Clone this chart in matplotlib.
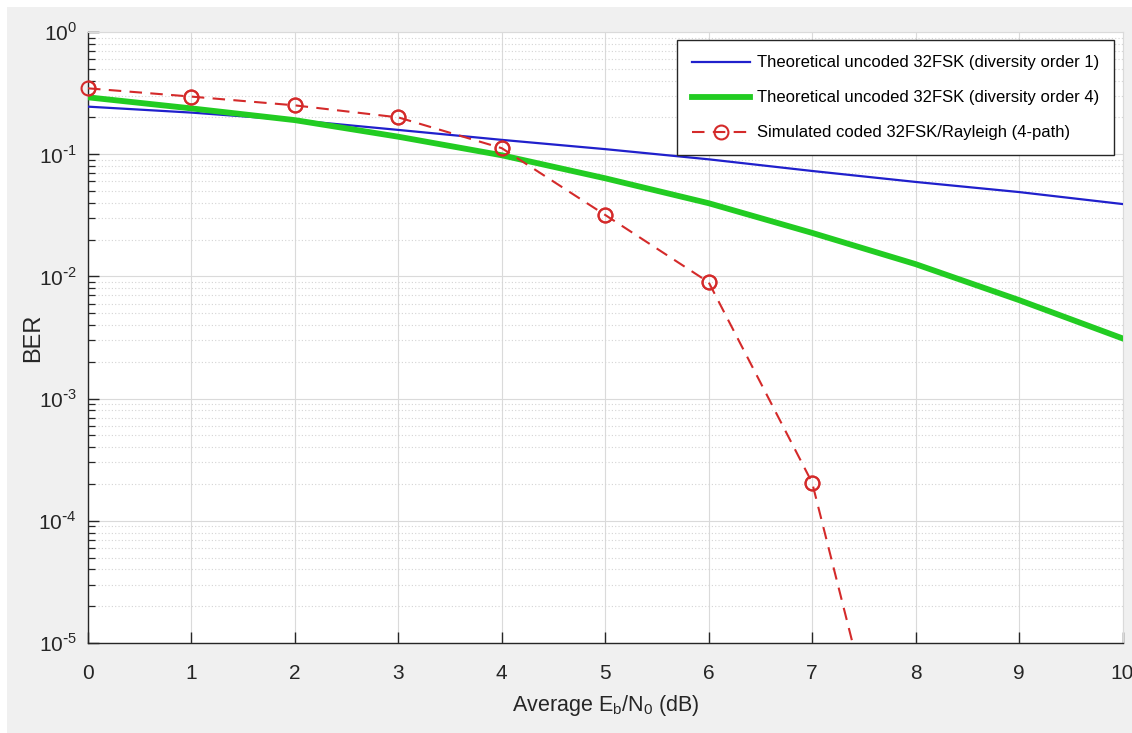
import numpy as np
import matplotlib
matplotlib.use("Agg")
import matplotlib.pyplot as plt
import matplotlib.patches as patches
from matplotlib import font_manager
from matplotlib.ticker import LogLocator, FuncFormatter, NullFormatter

# pick a narrow Arial-like face if we have one
try:
    font_manager.findfont("Liberation Sans Narrow", fallback_to_default=False)
    FONT = "Liberation Sans Narrow"
except Exception:
    FONT = "Liberation Sans"
plt.rcParams['font.family'] = [FONT, 'DejaVu Sans']
plt.rcParams['axes.unicode_minus'] = False

# Eb/N0 grid (dB)
ebno = [0, 1, 2, 3, 4, 5, 6, 7, 8, 9, 10]
# theoretical uncoded 32FSK, diversity order 1
ber_div1 = [0.245, 0.219, 0.190, 0.158, 0.131, 0.110, 0.0908, 0.0729, 0.0593, 0.049, 0.0391]
# theoretical uncoded 32FSK, diversity order 4
ber_div4 = [0.292, 0.237, 0.190, 0.139, 0.098, 0.0635, 0.0397, 0.0227, 0.0126, 0.0064, 0.00311]
# simulated coded 32FSK over 4-path Rayleigh
sim_ebno = [0, 1, 2, 3, 4, 5, 6, 7, 8]
sim_ber = [0.346, 0.296, 0.251, 0.200, 0.112, 0.0318, 0.00895, 2.05e-4, 9e-8]

labels = ["Theoretical uncoded 32FSK (diversity order 1)",
          "Theoretical uncoded 32FSK (diversity order 4)",
          "Simulated coded 32FSK/Rayleigh (4-path)"]

YMIN, YMAX = 1e-5, 1

W, H = 1132, 733
fig = plt.figure(figsize=(W/100, H/100), dpi=100)
fig.patch.set_facecolor('white')
# the grey MATLAB figure panel
fig.patches.append(patches.Rectangle((7/W, 0), 1 - 7/W, 1 - 7/H, transform=fig.transFigure,
                                     facecolor='#f0f0f0', edgecolor='none', zorder=-10))

ax = fig.add_axes([88/W, 90/H, (1122.5-88)/W, (643-32)/H])
ax.set_facecolor('white')

red = '#d42a2a'
ax.semilogy(ebno, ber_div1, color='#2020cc', lw=1.6, label=labels[0], zorder=3)
ax.semilogy(ebno, ber_div4, color='#22cc22', lw=4.2, label=labels[1], zorder=3)
ax.semilogy(sim_ebno, sim_ber, '--o', color=red, lw=1.5, ms=10, mfc='none',
            mew=1.5, dashes=(6, 4), label=labels[2], zorder=4)
# markers on the axes edge are drawn whole, like MATLAB does
vis = [(x, y) for x, y in zip(sim_ebno, sim_ber) if y >= YMIN]
ax.plot([p[0] for p in vis], [p[1] for p in vis], 'o', color=red, ms=10, mfc='none',
        mew=1.5, clip_on=False, zorder=5)

ax.set_xlim(0, 10)
ax.set_ylim(YMIN, YMAX)
ax.set_xticks(range(0, 11))
ax.yaxis.set_major_locator(LogLocator(base=10, numticks=10))
ax.yaxis.set_minor_locator(LogLocator(base=10, subs=np.arange(2, 10), numticks=20))

def pow_label(v, pos):
    e = int(round(np.log10(v)))
    return r'10$^{\mathregular{%s}}$' % (r'\text{-}%d' % -e if e < 0 else '%d' % e)

ax.yaxis.set_major_formatter(FuncFormatter(pow_label))
ax.yaxis.set_minor_formatter(NullFormatter())

ax.grid(True, which='major', color='#dadada', lw=0.8, ls='-')
ax.grid(True, which='minor', axis='y', color='#d4d4d4', lw=0.8, ls=(0, (1, 2)))
ax.set_axisbelow(True)

for s in ['top', 'right']:
    ax.spines[s].set_color('#dadada')
    ax.spines[s].set_linewidth(0.8)
for s in ['left', 'bottom']:
    ax.spines[s].set_color('#262626')
    ax.spines[s].set_linewidth(1.0)

ax.tick_params(which='major', direction='in', length=8, width=1.0, color='#262626',
               labelsize=15, labelcolor='#262626', top=False, right=False)
ax.tick_params(axis='x', which='major', pad=15)
ax.tick_params(axis='y', which='major', pad=8)
ax.tick_params(which='minor', direction='in', length=5, width=0.9, color='#262626',
               top=False, right=False)
ax.tick_params(axis='x', which='minor', bottom=False)

ax.set_xlabel(r'Average E$_\mathregular{b}$/N$_\mathregular{0}$ (dB)', fontsize=15.5,
              color='#262626', labelpad=7)
ax.set_ylabel('BER', fontsize=17, color='#262626', labelpad=-4)

leg = ax.legend(loc='upper right', fontsize=12.0, frameon=True, fancybox=False,
                edgecolor='#262626', framealpha=1, borderaxespad=0.5,
                handlelength=3.5, handletextpad=0.4, labelspacing=1.2, borderpad=0.9)
leg.get_frame().set_linewidth(1.0)

fig.savefig('out.png', dpi=100)
